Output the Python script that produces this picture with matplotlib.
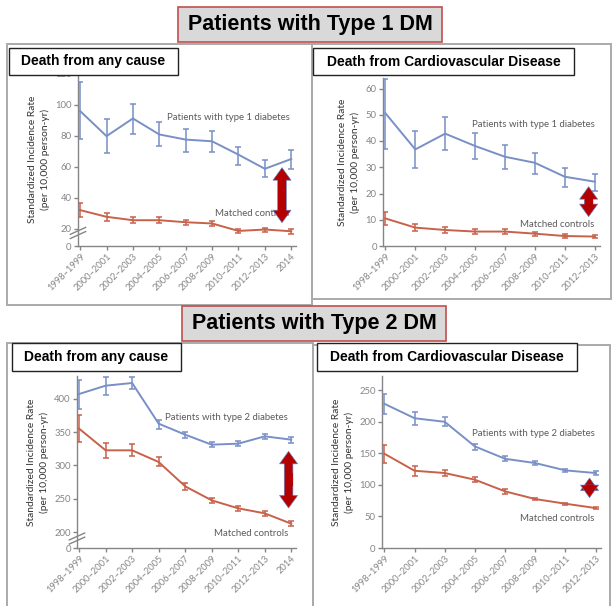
import matplotlib
matplotlib.use("Agg")
import matplotlib.pyplot as plt
from matplotlib.patches import Rectangle

W, H = 613, 606

periods = ['1998–1999', '2000–2001', '2002–2003', '2004–2005', '2006–2007',
           '2008–2009', '2010–2011', '2012–2013', '2014']
periods_cvd = periods[:8]

# Type 1 DM, death from any cause
t1_all_dm = [95.9, 79.7, 91.1, 80.8, 77.5, 76.4, 67.8, 58.7, 65.0]
t1_all_dm_lo = [78.0, 68.9, 81.4, 73.2, 69.7, 69.5, 61.3, 53.7, 58.5]
t1_all_dm_hi = [114.7, 90.5, 100.2, 88.8, 84.0, 83.0, 72.8, 64.3, 71.0]
t1_all_ctrl = [32.1, 27.8, 25.6, 25.6, 24.3, 23.5, 18.7, 19.6, 18.5]
t1_all_ctrl_lo = [27.8, 25.2, 23.5, 23.5, 22.6, 21.8, 17.3, 18.3, 16.9]
t1_all_ctrl_hi = [37.0, 30.4, 27.8, 27.4, 26.0, 25.2, 20.1, 20.9, 20.1]

# Type 1 DM, death from cardiovascular disease
t1_cvd_dm = [50.6, 36.8, 42.8, 38.1, 34.0, 31.7, 26.4, 24.5]
t1_cvd_dm_lo = [37.1, 29.6, 36.5, 33.0, 29.3, 27.4, 22.6, 21.0]
t1_cvd_dm_hi = [63.7, 43.8, 49.0, 43.1, 38.5, 35.5, 29.6, 27.4]
t1_cvd_ctrl = [10.5, 7.0, 6.1, 5.5, 5.5, 4.7, 3.8, 3.6]
t1_cvd_ctrl_lo = [8.0, 5.8, 5.1, 4.6, 4.7, 4.0, 3.2, 3.0]
t1_cvd_ctrl_hi = [13.0, 8.2, 7.1, 6.4, 6.3, 5.4, 4.4, 4.2]

# Type 2 DM, death from any cause
t2_all_dm = [407, 419.5, 423.5, 362.5, 346, 331, 332.5, 343.5, 338.5]
t2_all_dm_lo = [384.5, 405, 414.5, 355, 341, 327, 328.5, 340, 333.5]
t2_all_dm_hi = [428.5, 432, 432.5, 368.5, 350.5, 334.5, 336, 347, 342.5]
t2_all_ctrl = [355, 322.5, 322.5, 305, 268.5, 247.5, 235.5, 228, 212.5]
t2_all_ctrl_lo = [334.5, 311, 313.5, 298.5, 263.5, 243.5, 232, 224.5, 208.5]
t2_all_ctrl_hi = [376, 333.5, 332.5, 312.5, 273.5, 251, 239.5, 231.5, 216]

# Type 2 DM, death from cardiovascular disease
t2_cvd_dm = [228.9, 206, 200.3, 161.2, 141.6, 134.8, 123.2, 119]
t2_cvd_dm_lo = [212.5, 196, 193, 156, 137.4, 131.5, 120.5, 116.5]
t2_cvd_dm_hi = [244.7, 216, 207.7, 165.4, 145.3, 138, 126, 121.5]
t2_cvd_ctrl = [149.6, 122.6, 119, 108.4, 89.9, 77.7, 70.3, 63.4]
t2_cvd_ctrl_lo = [134.8, 114.7, 113.6, 104.7, 86.2, 75.5, 68.5, 61.8]
t2_cvd_ctrl_hi = [162.8, 129.5, 124.2, 112, 93, 80, 72.1, 65]

BLUE = '#7890c6'
RED = '#c8614a'
ARROW_RED = '#b50000'
AXC = '#858585'
CHART_FONT = 'Lato'
BOX_FONT = 'Liberation Sans'


def px_rect(x0, y0, x1, y1):
    return [x0 / W, 1 - y1 / H, (x1 - x0) / W, (y1 - y0) / H]


def series(ax, x, y, lo, hi, color):
    yerr = [[v - l for v, l in zip(y, lo)], [h - v for v, h in zip(y, hi)]]
    ax.errorbar(x, y, yerr=yerr, color=color, lw=1.4, elinewidth=1.1,
                capsize=2.3, capthick=1.1, zorder=3)


def arrow(ax, x, top, bottom):
    mid = (top + bottom) / 2
    style = 'simple,head_length=0.9,head_width=1.3,tail_width=0.62'
    for end in (top, bottom):
        ax.annotate('', xy=(x, end), xytext=(x, mid),
                    arrowprops=dict(arrowstyle=style, fc=ARROW_RED,
                                    ec='#5b7fc4', lw=0.45,
                                    shrinkA=0, shrinkB=0),
                    zorder=4)
    # hide the seam where the two halves meet
    d = 0.12 * (top - bottom)
    ax.plot([x, x], [mid - d, mid + d], color=ARROW_RED, lw=5.6,
            solid_capstyle='butt', zorder=5)


def panel(rect, cats, dm, ctrl, ylim, ticks, ticklabels, dm_label, ctrl_label,
          arrow_span, brk=None):
    ax = fig.add_axes(px_rect(*rect))
    x = list(range(len(cats)))
    series(ax, x, *dm, BLUE)
    series(ax, x, *ctrl, RED)
    ax.set_xlim(-0.08, len(cats) - 1 + 0.18)
    ax.set_ylim(*ylim)
    ax.set_xticks(x)
    ax.set_xticklabels(cats, rotation=45, ha='right', rotation_mode='anchor',
                       fontsize=6.7, color='#111111', family=CHART_FONT)
    ax.set_yticks(ticks)
    ax.set_yticklabels(ticklabels, fontsize=6.8, color='#3c3c3c', family=CHART_FONT)
    for s in ('top', 'right'):
        ax.spines[s].set_visible(False)
    for s in ('left', 'bottom'):
        ax.spines[s].set_color(AXC)
        ax.spines[s].set_linewidth(1.0)
    ax.tick_params(colors=AXC, length=3, width=1.0, pad=1.5)
    ax.set_ylabel('Standardized Incidence Rate\n(per 10,000 person-yr)',
                  fontsize=7.4, color='#333333', family=CHART_FONT,
                  linespacing=1.45, labelpad=4)
    ax.patch.set_alpha(0)
    ax.text(dm_label[0], dm_label[1], dm_label[2], fontsize=6.9, color='#5a5a5a',
            family=CHART_FONT, va='center', ha='left')
    ax.text(ctrl_label[0], ctrl_label[1], 'Matched controls', fontsize=6.9,
            color='#5a5a5a', family=CHART_FONT, va='center', ha='left', zorder=2)
    arrow(ax, *arrow_span)
    if brk is not None:
        # break marks on the y axis
        for dy in (-0.012, 0.012):
            ax.plot([-0.035, 0.035], [brk + dy - 0.02, brk + dy + 0.02],
                    transform=ax.transAxes, color=AXC, lw=1.0, clip_on=False)
    return ax


fig = plt.figure(figsize=(W / 100, H / 100), dpi=100)

# panel frames
for x0, y0, x1, y1 in [(7, 44, 312, 305), (312, 44, 611, 299),
                       (7, 343, 313, 612), (313, 345, 610, 612)]:
    fig.add_artist(Rectangle((x0 / W, 1 - y1 / H), (x1 - x0) / W, (y1 - y0) / H,
                             transform=fig.transFigure, fill=False,
                             ec='#aaaaaa', lw=1.4, zorder=1))

panel((78, 72, 296, 246), periods,
      (t1_all_dm, t1_all_dm_lo, t1_all_dm_hi),
      (t1_all_ctrl, t1_all_ctrl_lo, t1_all_ctrl_hi),
      (9, 121), [9, 20, 40, 60, 80, 100, 120],
      ['0', '20', '40', '60', '80', '100', '120'],
      (3.3, 91.6, 'Patients with type 1 diabetes'), (5.1, 30),
      (7.65, 59.4, 24.0), brk=0.075)

panel((383, 78, 600, 246), periods_cvd,
      (t1_cvd_dm, t1_cvd_dm_lo, t1_cvd_dm_hi),
      (t1_cvd_ctrl, t1_cvd_ctrl_lo, t1_cvd_ctrl_hi),
      (0, 64), [0, 10, 20, 30, 40, 50, 60],
      ['0', '10', '20', '30', '40', '50', '60'],
      (2.9, 46.4, 'Patients with type 1 diabetes'), (4.5, 8.2),
      (6.8, 22.6, 11.2))

panel((77, 376, 296, 548), periods,
      (t2_all_dm, t2_all_dm_lo, t2_all_dm_hi),
      (t2_all_ctrl, t2_all_ctrl_lo, t2_all_ctrl_hi),
      (176, 434), [176, 200, 250, 300, 350, 400],
      ['0', '200', '250', '300', '350', '400'],
      (3.25, 371, 'Patients with type 2 diabetes'), (5.1, 198.5),
      (7.9, 321, 236), brk=0.055)

panel((382, 376, 601, 548), periods_cvd,
      (t2_cvd_dm, t2_cvd_dm_lo, t2_cvd_dm_hi),
      (t2_cvd_ctrl, t2_cvd_ctrl_lo, t2_cvd_ctrl_hi),
      (0, 273), [0, 50, 100, 150, 200, 250],
      ['0', '50', '100', '150', '200', '250'],
      (2.9, 181, 'Patients with type 2 diabetes'), (4.5, 47.6),
      (6.8, 111, 80))


def box(x0, y0, x1, y1, text, size, fc, ec, lw):
    fig.add_artist(Rectangle((x0 / W, 1 - y1 / H), (x1 - x0) / W, (y1 - y0) / H,
                             transform=fig.transFigure, fc=fc, ec=ec, lw=lw,
                             zorder=5))
    fig.text((x0 + x1) / 2 / W, 1 - (y0 + y1) / 2 / H, text, fontsize=size,
             fontweight='bold', family=BOX_FONT, ha='center', va='center',
             color='black', zorder=6)


box(178, 7, 442, 42, 'Patients with Type 1 DM', 15.5, '#d9d9d9', '#c0504d', 1.2)
box(182, 306, 446, 341, 'Patients with Type 2 DM', 15.5, '#d9d9d9', '#c0504d', 1.2)
box(9, 48, 178, 75, 'Death from any cause', 10, 'white', '#222222', 1.0)
box(313, 48, 574, 75, 'Death from Cardiovascular Disease', 10, 'white', '#222222', 1.0)
box(12, 343, 181, 371, 'Death from any cause', 10, 'white', '#222222', 1.0)
box(317, 343, 577, 371, 'Death from Cardiovascular Disease', 10, 'white', '#222222', 1.0)

fig.savefig('out.png', dpi=100)
